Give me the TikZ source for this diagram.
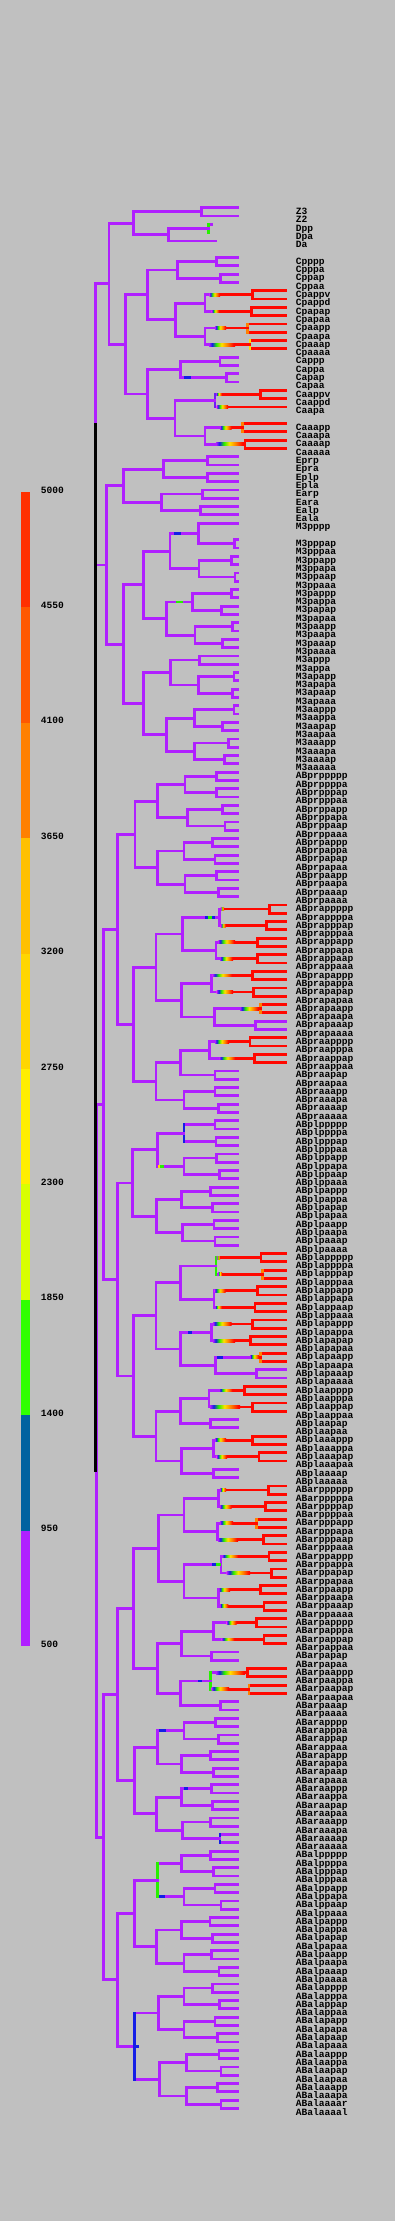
\documentclass[tikz,border=0pt]{standalone}
\usepackage{fontspec}
\usetikzlibrary{calc}
\newfontfamily\lblfont{Liberation Mono}
\newcommand\lblsize{\lblfont\bfseries\fontsize{4.8pt}{5pt}\selectfont}
\definecolor{bgray}{RGB}{192,192,192}
\definecolor{purp}{RGB}{176,32,255}
\definecolor{hred}{RGB}{255,8,0}
\definecolor{horg}{RGB}{255,128,0}
\definecolor{hyel}{RGB}{255,225,0}
\definecolor{hgrn}{RGB}{40,240,0}
\definecolor{hblu}{RGB}{20,30,230}
\definecolor{hvio}{RGB}{110,30,245}
\definecolor{lga}{RGB}{255,48,0}
\definecolor{lgb}{RGB}{255,88,0}
\definecolor{lgc}{RGB}{255,128,0}
\definecolor{lgd}{RGB}{255,192,0}
\definecolor{lge}{RGB}{255,214,0}
\definecolor{lgf}{RGB}{255,238,0}
\definecolor{lgg}{RGB}{216,255,0}
\definecolor{lgh}{RGB}{48,255,0}
\definecolor{lgi}{RGB}{0,98,160}
\definecolor{lgj}{RGB}{176,32,255}
\pgfdeclarehorizontalshading{heat}{100bp}{color(0bp)=(purp); color(25bp)=(purp); color(31bp)=(hblu); color(39bp)=(hgrn); color(49bp)=(hyel); color(60bp)=(horg); color(72bp)=(hred); color(100bp)=(hred)}
\tikzset{
  tr/.style={draw=purp,line width=1.4pt,line cap=rect},
  hot/.style={tr,draw=hred},
  org/.style={tr,draw=horg},
  yel/.style={tr,draw=hyel},
  grn/.style={tr,draw=hgrn},
  blu/.style={tr,draw=hblu},
  vio/.style={tr,draw=hvio},
  blk/.style={tr,draw=black},
  cell/.style={font=\lblsize,anchor=base west,inner sep=0pt},
  scalelab/.style={font=\lblsize,anchor=west,inner sep=0pt},
}
% pair of sister leaves: vertical style, leaf style, leaf end, name, x, first row
\newcommand\pr[6]{%
  \pgfmathsetmacro\ya{207.7+8.3*#6}
  \pgfmathsetmacro\yb{\ya+8.3}
  \pgfmathsetmacro\ym{\ya+4.15}
  \coordinate (#4) at (#5,\ym);
  \draw[#2] (#5,\ya) -- (#3,\ya) (#5,\yb) -- (#3,\yb);
  \draw[#1] (#5,\ya) -- (#5,\yb);
}
\newcommand\lp[4][tr]{\pr{#1}{tr}{238}{#2}{#3}{#4}}
\newcommand\rp[4][hot]{\pr{#1}{hot}{285.7}{#2}{#3}{#4}}
\newcommand\xp[4][tr]{\pr{#1}{tr}{285.7}{#2}{#3}{#4}}
% inner node: vertical style, name, x, upper child, lower child
\newcommand\jn[5][tr]{%
  \path ($(#4)!.5!(#5)$) coordinate (jnm);
  \coordinate (#2) at (jnm -| #3,0);
  \draw[tr] (#4 -| #2) -- (#4) (#5 -| #2) -- (#5);
  \draw[#1] (#4 -| #2) -- (#5 -| #2);
}
% colour ramp on the stem of a child, from x #2 to x #3, red after it
\newcommand\hot[3]{%
  \draw[hot] (#1 -| #3,0) -- (#1);
  \shade[shading=heat] ($(#1 -| #2,0)+(0,-1.4)$) rectangle ($(#1 -| #3,0)+(0,1.4)$);
}
\newcommand\bit[4]{\draw[#1] (#2 -| #3,0) -- (#2 -| #4,0);}
\begin{document}
\begin{tikzpicture}[x=0.5pt,y=-0.5pt]
\fill[bgray] (0,0) rectangle (395,2221);

% scale
\fill[lga] (21,492.0) rectangle (30,607.4);
\fill[lgb] (21,607.4) rectangle (30,722.8);
\fill[lgc] (21,722.8) rectangle (30,838.2);
\fill[lgd] (21,838.2) rectangle (30,953.6);
\fill[lge] (21,953.6) rectangle (30,1069.0);
\fill[lgf] (21,1069.0) rectangle (30,1184.4);
\fill[lgg] (21,1184.4) rectangle (30,1299.8);
\fill[lgh] (21,1299.8) rectangle (30,1415.2);
\fill[lgi] (21,1415.2) rectangle (30,1530.6);
\fill[lgj] (21,1530.6) rectangle (30,1646.0);
\foreach \v [count=\k from 0] in {5000,4550,4100,3650,3200,2750,2300,1850,1400,950,500}
  \node[scalelab] (key\k) at (40.5,{490+115.4*\k}) {\v};

% leaf names
\foreach \n [count=\i from 0] in {Z3,Z2,Dpp,Dpa,Da,{},Cpppp,Cpppa,Cppap,Cppaa,Cpappv,Cpappd,Cpapap,Cpapaa,Cpaapp,Cpaapa,Cpaaap,Cpaaaa,Cappp,Cappa,Capap,Capaa,Caappv,Caappd,Caapa,{},Caaapp,Caaapa,Caaaap,Caaaaa,Eprp,Epra,Eplp,Epla,Earp,Eara,Ealp,Eala,M3pppp,{},M3pppap,M3pppaa,M3ppapp,M3ppapa,M3ppaap,M3ppaaa,M3pappp,M3pappa,M3papap,M3papaa,M3paapp,M3paapa,M3paaap,M3paaaa,M3appp,M3appa,M3apapp,M3apapa,M3apaap,M3apaaa,M3aappp,M3aappa,M3aapap,M3aapaa,M3aaapp,M3aaapa,M3aaaap,M3aaaaa,
ABprppppp,ABprppppa,ABprpppap,ABprpppaa,ABprppapp,ABprppapa,ABprppaap,ABprppaaa,ABprpappp,ABprpappa,ABprpapap,ABprpapaa,ABprpaapp,ABprpaapa,ABprpaaap,ABprpaaaa,
ABprappppp,ABprappppa,ABprapppap,ABprapppaa,ABprappapp,ABprappapa,ABprappaap,ABprappaaa,ABprapappp,ABprapappa,ABprapapap,ABprapapaa,ABprapaapp,ABprapaapa,ABprapaaap,ABprapaaaa,
ABpraapppp,ABpraapppa,ABpraappap,ABpraappaa,ABpraapap,ABpraapaa,ABpraaapp,ABpraaapa,ABpraaaap,ABpraaaaa,
ABplppppp,ABplppppa,ABplpppap,ABplpppaa,ABplppapp,ABplppapa,ABplppaap,ABplppaaa,ABplpappp,ABplpappa,ABplpapap,ABplpapaa,ABplpaapp,ABplpaapa,ABplpaaap,ABplpaaaa,
ABplappppp,ABplappppa,ABplapppap,ABplapppaa,ABplappapp,ABplappapa,ABplappaap,ABplappaaa,ABplapappp,ABplapappa,ABplapapap,ABplapapaa,ABplapaapp,ABplapaapa,ABplapaaap,ABplapaaaa,
ABplaapppp,ABplaapppa,ABplaappap,ABplaappaa,ABplaapap,ABplaapaa,ABplaaappp,ABplaaappa,ABplaaapap,ABplaaapaa,ABplaaaap,ABplaaaaa,
ABarpppppp,ABarpppppa,ABarppppap,ABarppppaa,ABarpppapp,ABarpppapa,ABarpppaap,ABarpppaaa,ABarppappp,ABarppappa,ABarppapap,ABarppapaa,ABarppaapp,ABarppaapa,ABarppaaap,ABarppaaaa,
ABarpapppp,ABarpapppa,ABarpappap,ABarpappaa,ABarpapap,ABarpapaa,ABarpaappp,ABarpaappa,ABarpaapap,ABarpaapaa,ABarpaaap,ABarpaaaa,
ABarapppp,ABarapppa,ABarappap,ABarappaa,ABarapapp,ABarapapa,ABarapaap,ABarapaaa,ABaraappp,ABaraappa,ABaraapap,ABaraapaa,ABaraaapp,ABaraaapa,ABaraaaap,ABaraaaaa,
ABalppppp,ABalppppa,ABalpppap,ABalpppaa,ABalppapp,ABalppapa,ABalppaap,ABalppaaa,ABalpappp,ABalpappa,ABalpapap,ABalpapaa,ABalpaapp,ABalpaapa,ABalpaaap,ABalpaaaa,
ABalapppp,ABalapppa,ABalappap,ABalappaa,ABalapapp,ABalapapa,ABalapaap,ABalapaaa,ABalaappp,ABalaappa,ABalaapap,ABalaapaa,ABalaaapp,ABalaaapa,ABalaaaar,ABalaaaal}
  \node[cell] (lab\i) at (295.5,{214.5+8.3*\i}) {\n};

% P1
\lp{Z}{201.7}{0}
\coordinate (Dpp) at (211.7,224.3);
\coordinate (Dpa) at (208.7,232.6);
\jn[grn]{Dp}{208.7}{Dpp}{Dpa}
\coordinate (Da) at (215.7,240.9);
\jn{D}{168.7}{Dp}{Da}
\jn{P3}{133.3}{Z}{D}
\lp{Cppp}{216.7}{6}
\lp{Cppa}{220.7}{8}
\jn{Cpp}{177.7}{Cppp}{Cppa}
\rp{Cpapp}{252.7}{10}
\rp{Cpapa}{251.7}{12}
\jn{Cpap}{205}{Cpapp}{Cpapa}
\rp[org]{Cpaap}{247.7}{14}
\rp[yel]{Cpaaa}{250}{16}
\jn{Cpaa}{205}{Cpaap}{Cpaaa}
\jn{Cpa}{175.7}{Cpap}{Cpaa}
\jn{Cp}{147.7}{Cpp}{Cpa}
\lp{Capp}{220}{18}
\lp{Capa}{226.7}{20}
\jn{Cap}{180.7}{Capp}{Capa}
\rp{Caapp}{260.7}{22}
\coordinate (Caapa) at (285.7,406.9);
\jn[vio]{Caap}{215}{Caapp}{Caapa}
\rp[org]{Caaap}{242.7}{26}
\rp{Caaaa}{245}{28}
\jn{Caaa}{205}{Caaap}{Caaaa}
\jn{Caa}{175}{Caap}{Caaa}
\jn{Ca}{147.7}{Cap}{Caa}
\jn{C}{125.7}{Cp}{Ca}
\jn{P2}{109}{P3}{C}
\lp{Epr}{207.7}{30}
\lp{Epl}{207.7}{32}
\jn{Ep}{163.3}{Epr}{Epl}
\lp{Ear}{202.7}{34}
\lp{Eal}{200.7}{36}
\jn{Ea}{161.7}{Ear}{Eal}
\jn{E}{123.3}{Ep}{Ea}
\coordinate (MSpppp) at (238,523.1);
\lp{MSpppa}{234.3}{40}
\jn{MSppp}{198.3}{MSpppp}{MSpppa}
\lp{MSppap}{231.7}{42}
\lp{MSppaa}{235}{44}
\jn{MSppa}{199}{MSppap}{MSppaa}
\jn{MSpp}{170}{MSppp}{MSppa}
\lp{MSpapp}{231.7}{46}
\lp{MSpapa}{221.7}{48}
\jn{MSpap}{192.7}{MSpapp}{MSpapa}
\lp{MSpaap}{232.7}{50}
\lp{MSpaaa}{222.7}{52}
\jn{MSpaa}{195}{MSpaap}{MSpaaa}
\jn{MSpa}{166.7}{MSpap}{MSpaa}
\jn{MSp}{143.3}{MSpp}{MSpa}
\lp{MSapp}{199.3}{54}
\lp{MSapap}{234}{56}
\lp{MSapaa}{232.7}{58}
\jn{MSapa}{198.3}{MSapap}{MSapaa}
\jn{MSap}{170.7}{MSapp}{MSapa}
\lp{MSaapp}{234}{60}
\lp{MSaapa}{222.7}{62}
\jn{MSaap}{194.3}{MSaapp}{MSaapa}
\lp{MSaaap}{228.7}{64}
\lp{MSaaaa}{224.7}{66}
\jn{MSaaa}{194.3}{MSaaap}{MSaaaa}
\jn{MSaa}{166.7}{MSaap}{MSaaa}
\jn{MSa}{143.3}{MSap}{MSaa}
\jn{MS}{123.3}{MSp}{MSa}
\jn{EMS}{106.7}{E}{MS}
\jn{P1}{95.3}{P2}{EMS}

% ABpr
\lp{ABprpppp}{216.7}{68}
\lp{ABprpppa}{216.7}{70}
\jn{ABprppp}{185}{ABprpppp}{ABprpppa}
\lp{ABprppap}{222.7}{72}
\lp{ABprppaa}{225}{74}
\jn{ABprppa}{187.7}{ABprppap}{ABprppaa}
\jn{ABprpp}{157.7}{ABprppp}{ABprppa}
\lp{ABprpapp}{212.7}{76}
\lp{ABprpapa}{215}{78}
\jn{ABprpap}{184}{ABprpapp}{ABprpapa}
\lp{ABprpaap}{216.7}{80}
\lp{ABprpaaa}{218.3}{82}
\jn{ABprpaa}{185}{ABprpaap}{ABprpaaa}
\jn{ABprpa}{157.7}{ABprpap}{ABprpaa}
\jn{ABprp}{135}{ABprpp}{ABprpa}
\rp{ABprapppp}{269.3}{84}
\rp{ABprapppa}{266.7}{86}
\jn{ABprappp}{219.3}{ABprapppp}{ABprapppa}
\rp{ABprappap}{257.7}{88}
\rp{ABprappaa}{257.7}{90}
\jn{ABprappa}{216}{ABprappap}{ABprappaa}
\jn{ABprapp}{182.7}{ABprappp}{ABprappa}
\rp{ABprapapp}{252.7}{92}
\rp{ABprapapa}{253.3}{94}
\jn{ABprapap}{211.7}{ABprapapp}{ABprapapa}
\rp[org]{ABprapaap}{260.3}{96}
\xp{ABprapaaa}{255.7}{98}
\jn{ABprapaa}{214.3}{ABprapaap}{ABprapaaa}
\jn{ABprapa}{181.7}{ABprapap}{ABprapaa}
\jn{ABprap}{156}{ABprapp}{ABprapa}
\rp{ABpraappp}{250}{100}
\rp{ABpraappa}{254.3}{102}
\jn{ABpraapp}{209.3}{ABpraappp}{ABpraappa}
\lp{ABpraapa}{215}{104}
\jn{ABpraap}{180.7}{ABpraapp}{ABpraapa}
\lp{ABpraaap}{215}{106}
\lp{ABpraaaa}{218.3}{108}
\jn{ABpraaa}{184}{ABpraaap}{ABpraaaa}
\jn{ABpraa}{156}{ABpraap}{ABpraaa}
\jn{ABpra}{133.3}{ABprap}{ABpraa}
\jn{ABpr}{117.7}{ABprp}{ABpra}

% ABpl
\lp{ABplpppp}{215}{110}
\lp{ABplpppa}{216}{112}
\jn[blu]{ABplppp}{184}{ABplpppp}{ABplpppa}
\lp{ABplppap}{216.7}{114}
\lp{ABplppaa}{219.3}{116}
\jn{ABplppa}{184}{ABplppap}{ABplppaa}
\jn{ABplpp}{157.7}{ABplppp}{ABplppa}
\lp{ABplpapp}{210.7}{118}
\lp{ABplpapa}{212.7}{120}
\jn{ABplpap}{181.7}{ABplpapp}{ABplpapa}
\lp{ABplpaap}{214}{122}
\lp{ABplpaaa}{215}{124}
\jn{ABplpaa}{182.7}{ABplpaap}{ABplpaaa}
\jn{ABplpa}{156.7}{ABplpap}{ABplpaa}
\jn{ABplp}{132.7}{ABplpp}{ABplpa}
\rp{ABplapppp}{261}{126}
\rp[org]{ABplapppa}{262.7}{128}
\jn[grn]{ABplappp}{216}{ABplapppp}{ABplapppa}
\rp{ABplappap}{257.7}{130}
\rp{ABplappaa}{255}{132}
\jn{ABplappa}{214}{ABplappap}{ABplappaa}
\jn{ABplapp}{180.7}{ABplappp}{ABplappa}
\rp{ABplapapp}{252.7}{134}
\rp{ABplapapa}{250.7}{136}
\jn{ABplapap}{211.7}{ABplapapp}{ABplapapa}
\rp[org]{ABplapaap}{260.3}{138}
\xp{ABplapaaa}{256.7}{140}
\jn{ABplapaa}{215.7}{ABplapaap}{ABplapaaa}
\jn{ABplapa}{180.7}{ABplapap}{ABplapaa}
\jn{ABplap}{156}{ABplapp}{ABplapa}
\rp{ABplaappp}{244.3}{142}
\rp{ABplaappa}{252.7}{144}
\jn{ABplaapp}{209}{ABplaappp}{ABplaappa}
\lp{ABplaapa}{210.7}{146}
\jn{ABplaap}{180.7}{ABplaapp}{ABplaapa}
\rp{ABplaaapp}{252.7}{148}
\rp{ABplaaapa}{259}{150}
\jn{ABplaaap}{213.3}{ABplaaapp}{ABplaaapa}
\lp{ABplaaaa}{213.3}{152}
\jn{ABplaaa}{181.7}{ABplaaap}{ABplaaaa}
\jn{ABplaa}{156}{ABplaap}{ABplaaa}
\jn{ABpla}{133.3}{ABplap}{ABplaa}
\jn{ABpl}{117.7}{ABplp}{ABpla}
\jn{ABp}{103.3}{ABpr}{ABpl}

% ABar
\rp{ABarppppp}{268.3}{154}
\rp{ABarppppa}{265.7}{156}
\jn{ABarpppp}{218.3}{ABarppppp}{ABarppppa}
\rp[org]{ABarpppap}{256.7}{158}
\rp{ABarpppaa}{263.3}{160}
\jn{ABarpppa}{217.7}{ABarpppap}{ABarpppaa}
\jn{ABarppp}{184}{ABarpppp}{ABarpppa}
\rp{ABarppapp}{269}{162}
\rp{ABarppapa}{271.7}{164}
\jn{ABarppap}{221}{ABarppapp}{ABarppapa}
\rp{ABarppaap}{260.7}{166}
\rp{ABarppaaa}{264}{168}
\jn{ABarppaa}{218.3}{ABarppaap}{ABarppaaa}
\jn{ABarppa}{184}{ABarppap}{ABarppaa}
\jn{ABarpp}{158.3}{ABarppp}{ABarppa}
\rp{ABarpappp}{256.7}{170}
\rp{ABarpappa}{264}{172}
\jn{ABarpapp}{213.3}{ABarpappp}{ABarpappa}
\lp{ABarpapa}{211.7}{174}
\jn{ABarpap}{181.7}{ABarpapp}{ABarpapa}
\rp{ABarpaapp}{247.7}{176}
\rp[org]{ABarpaapa}{249}{178}
\jn[grn]{ABarpaap}{210.7}{ABarpaapp}{ABarpaapa}
\lp{ABarpaaa}{220.7}{180}
\jn{ABarpaa}{180.7}{ABarpaap}{ABarpaaa}
\jn{ABarpa}{157.7}{ABarpap}{ABarpaa}
\jn{ABarp}{133.3}{ABarpp}{ABarpa}
\lp{ABarappp}{215.7}{182}
\lp{ABarappa}{218.3}{184}
\jn{ABarapp}{184}{ABarappp}{ABarappa}
\lp{ABarapap}{210.7}{186}
\lp{ABarapaa}{213.3}{188}
\jn{ABarapa}{181.7}{ABarapap}{ABarapaa}
\jn{ABarap}{157.3}{ABarapp}{ABarapa}
\lp{ABaraapp}{211.7}{190}
\lp{ABaraapa}{212.7}{192}
\jn{ABaraap}{181.7}{ABaraapp}{ABaraapa}
\lp{ABaraaap}{210.7}{194}
\lp[blu]{ABaraaaa}{220}{196}
\jn{ABaraaa}{182.7}{ABaraaap}{ABaraaaa}
\jn{ABaraa}{156.7}{ABaraap}{ABaraaa}
\jn{ABara}{134.3}{ABarap}{ABaraa}
\jn{ABar}{117.7}{ABarp}{ABara}

% ABal
\lp{ABalpppp}{210.7}{198}
\lp{ABalpppa}{213.3}{200}
\jn{ABalppp}{181.7}{ABalpppp}{ABalpppa}
\lp{ABalppap}{215}{202}
\lp{ABalppaa}{221}{204}
\jn{ABalppa}{184}{ABalppap}{ABalppaa}
\jn[grn]{ABalpp}{157.7}{ABalppp}{ABalppa}
\lp{ABalpapp}{210}{206}
\lp{ABalpapa}{212.7}{208}
\jn{ABalpap}{181.7}{ABalpapp}{ABalpapa}
\lp{ABalpaap}{211.7}{210}
\lp{ABalpaaa}{219}{212}
\jn{ABalpaa}{184}{ABalpaap}{ABalpaaa}
\jn{ABalpa}{156.7}{ABalpap}{ABalpaa}
\jn{ABalp}{134.3}{ABalpp}{ABalpa}
\lp{ABalappp}{212.7}{214}
\lp{ABalappa}{219.3}{216}
\jn{ABalapp}{184}{ABalappp}{ABalappa}
\lp{ABalapap}{215}{218}
\lp{ABalapaa}{217.7}{220}
\jn{ABalapa}{184}{ABalapap}{ABalapaa}
\jn{ABalap}{158.3}{ABalapp}{ABalapa}
\lp{ABalaapp}{219}{222}
\lp{ABalaapa}{221}{224}
\jn{ABalaap}{186.7}{ABalaapp}{ABalaapa}
\lp{ABalaaap}{217.7}{226}
\lp{ABalaaaa}{221}{228}
\jn{ABalaaa}{186.7}{ABalaaap}{ABalaaaa}
\jn{ABalaa}{159.3}{ABalaap}{ABalaaa}
\jn[blu]{ABala}{134.3}{ABalap}{ABalaa}
\jn{ABal}{117.7}{ABalp}{ABala}
\jn{ABa}{103.3}{ABar}{ABal}
\jn{AB}{96.3}{ABp}{ABa}
\jn[blk]{P0}{95.3}{P1}{AB}

% late branches
\hot{Cpapp}{209.3}{220}
\hot{Cpapa}{211.7}{219.3}
\hot{Cpaap}{215}{226}
\hot{Cpaaa}{209}{235}
\hot{Caapp}{216}{222}
\hot{Caapa}{216.7}{228}
\hot{Caaap}{220}{231.7}
\hot{Caaaa}{216}{244}
\hot{ABprapppp}{220.7}{224}
\hot{ABprapppa}{220.7}{225.7}
\hot{ABprappap}{218.3}{235}
\hot{ABprappaa}{220}{233}
\hot{ABprapapp}{212.7}{233}
\hot{ABprapapa}{216.7}{233}
\hot{ABprapaap}{240}{259}
\hot{ABpraappp}{215}{229}
\hot{ABpraappa}{219.3}{236}
\hot{ABplapppp}{216.7}{220}
\hot{ABplapppa}{218}{222}
\hot{ABplappap}{214.5}{225.7}
\hot{ABplappaa}{215}{222}
\hot{ABplapapp}{213}{231.7}
\hot{ABplapapa}{213}{235}
\hot{ABplapaap}{250}{259}
\hot{ABplaappp}{219}{233}
\hot{ABplaappa}{210}{240}
\hot{ABplaaapp}{215}{226}
\hot{ABplaaapa}{216.7}{227}
\hot{ABarppppp}{220}{226}
\hot{ABarppppa}{220}{231.7}
\hot{ABarpppap}{220}{233}
\hot{ABarpppaa}{218}{238}
\hot{ABarppapp}{222}{239}
\hot{ABarppapa}{226.7}{250}
\hot{ABarppaap}{218.8}{230}
\hot{ABarppaaa}{220}{228.3}
\hot{ABarpappp}{226.7}{236.7}
\hot{ABarpappa}{221.7}{235}
\hot{ABarpaapp}{216}{245}
\hot{ABarpaapa}{211.7}{229}

% small marks
\bit{blu}{MSppp}{175}{180}
\bit{grn}{MSpap}{177}{181.7}
\bit{blu}{Capa}{185}{190}
\bit{blu}{ABprappp}{206}{214}
\bit{grn}{ABprappp}{209}{211}
\bit{yel}{ABplppa}{159}{160.5}
\bit{grn}{ABplppa}{161.5}{163}
\bit{blu}{ABplapap}{189}{191}
\bit{blu}{ABplapaap}{218}{222}
\bit{blu}{ABarppap}{213.3}{216}
\bit{grn}{ABarppap}{217}{220}
\bit{blu}{ABarpaap}{199}{201}
\bit{blu}{ABarapp}{160}{165}
\bit{blu}{ABaraapp}{185}{187}
\bit{blu}{ABalppa}{160}{163.3}
\bit{blu}{ABala}{134.3}{138}
\end{tikzpicture}
\end{document}
